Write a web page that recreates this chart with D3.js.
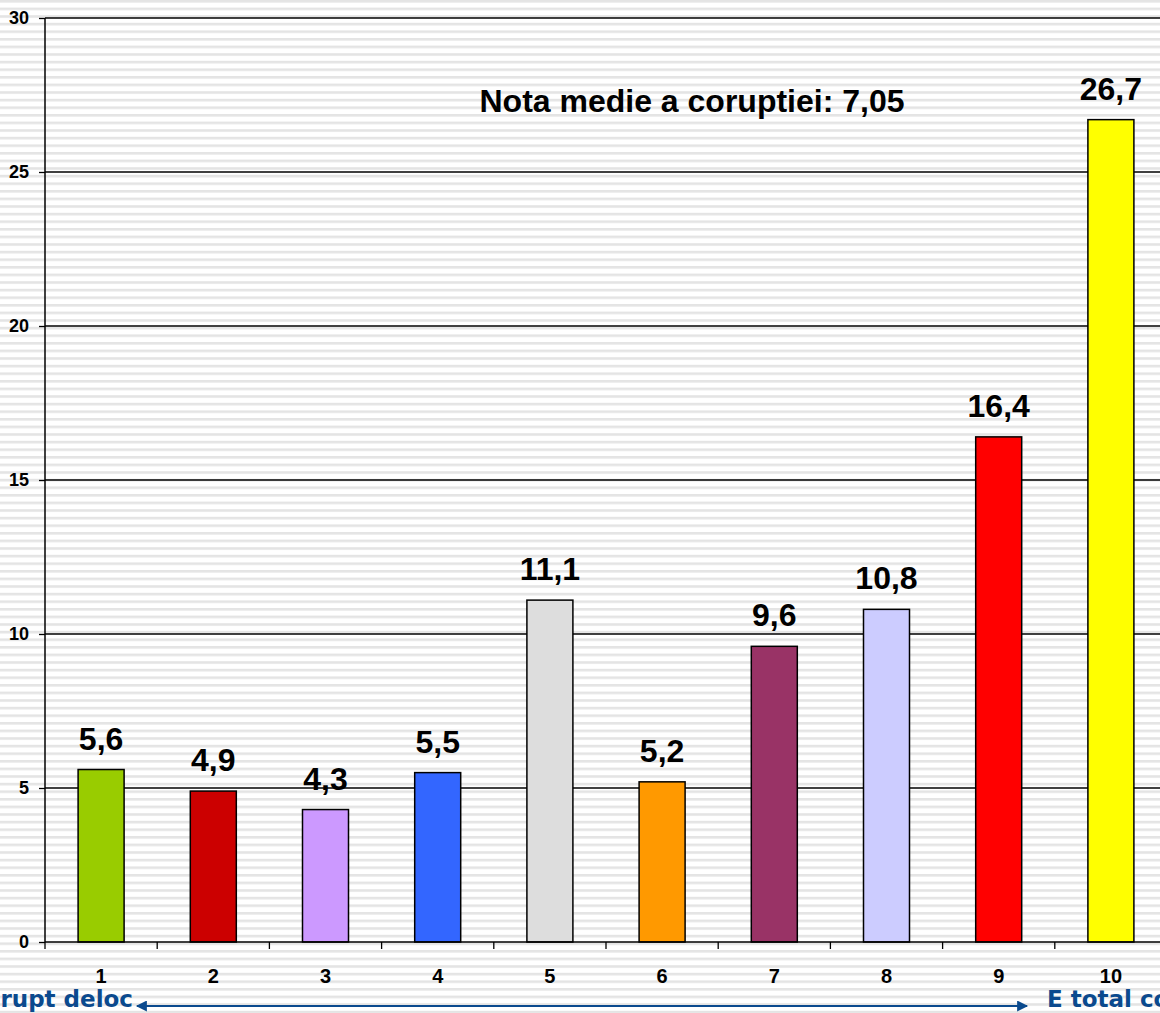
<!DOCTYPE html>
<html>
<head>
<meta charset="utf-8">
<script src="https://cdn.jsdelivr.net/npm/d3@7"></script>
<style>
  body { margin: 0; background: #fff; }
  svg { display: block; }
</style>
</head>
<body>
<div id="chart"></div>
<script>
var categories = ["1", "2", "3", "4", "5", "6", "7", "8", "9", "10"];
var values = [5.6, 4.9, 4.3, 5.5, 11.1, 5.2, 9.6, 10.8, 16.4, 26.7];
var labels = ["5,6", "4,9", "4,3", "5,5", "11,1", "5,2", "9,6", "10,8", "16,4", "26,7"];
var colors = ["#99cc00", "#cc0000", "#cc99ff", "#3366ff", "#dddddd",
              "#ff9900", "#993366", "#ccccff", "#ff0000", "#ffff00"];
var yTicks = [0, 5, 10, 15, 20, 25, 30];
var note = "Nota medie a coruptiei: 7,05";
var leftLabel = "Nu e corupt deloc";
var rightLabel = "E total corupt";

var W = 1160, H = 1013;
var margin = {top: 18, left: 45, bottom: 71};
var font = "Liberation Sans, Arial, sans-serif";

var svg = d3.select("#chart").append("svg")
    .attr("width", W)
    .attr("height", H);

// striped background
var defs = svg.append("defs");
var pat = defs.append("pattern")
    .attr("id", "stripes")
    .attr("patternUnits", "userSpaceOnUse")
    .attr("width", 8)
    .attr("height", 7.6);
pat.append("rect").attr("width", 8).attr("height", 7.6).attr("fill", "#ffffff");
pat.append("rect").attr("y", 0).attr("width", 8).attr("height", 2.6).attr("fill", "#e4e4e4");

var marker = defs.append("marker")
    .attr("id", "arrow")
    .attr("viewBox", "0 0 10 10")
    .attr("refX", 9).attr("refY", 5)
    .attr("markerWidth", 7).attr("markerHeight", 5.5)
    .attr("markerUnits", "strokeWidth")
    .attr("orient", "auto-start-reverse");
marker.append("path").attr("d", "M0,0 L10,5 L0,10 z").attr("fill", "#0b4a8e");

svg.append("rect").attr("width", W).attr("height", H).attr("fill", "url(#stripes)");

var x = d3.scaleBand()
    .domain(categories)
    .range([margin.left, margin.left + 1122])
    .paddingInner(0.59)
    .paddingOuter(0.295);

var y = d3.scaleLinear()
    .domain([0, 30])
    .range([H - margin.bottom, margin.top]);

// gridlines
svg.append("g")
    .selectAll("line")
    .data(yTicks.filter(function(d) { return d > 0; }))
  .enter().append("line")
    .attr("x1", margin.left).attr("x2", W)
    .attr("y1", function(d) { return y(d); })
    .attr("y2", function(d) { return y(d); })
    .attr("stroke", "#000")
    .attr("stroke-width", 1.3);

// bars
svg.append("g")
    .selectAll("rect")
    .data(values)
  .enter().append("rect")
    .attr("x", function(d, i) { return x(categories[i]); })
    .attr("width", x.bandwidth())
    .attr("y", function(d) { return y(d); })
    .attr("height", function(d) { return y(0) - y(d); })
    .attr("fill", function(d, i) { return colors[i]; })
    .attr("stroke", "#000")
    .attr("stroke-width", 1.5);

// value labels
svg.append("g")
    .selectAll("text")
    .data(values)
  .enter().append("text")
    .attr("x", function(d, i) { return x(categories[i]) + x.bandwidth() / 2; })
    .attr("y", function(d) { return y(d) - 20; })
    .attr("text-anchor", "middle")
    .style("font-family", font)
    .style("font-weight", "bold")
    .style("font-size", "32px")
    .text(function(d, i) { return labels[i]; });

// y axis
var yAxis = d3.axisLeft(y)
    .tickValues(yTicks)
    .tickSize(6)
    .tickPadding(10)
    .tickFormat(d3.format("d"));

var gy = svg.append("g")
    .attr("transform", "translate(" + margin.left + ",0)")
    .call(yAxis);
gy.select(".domain").attr("stroke-width", 1.5).attr("d", "M0," + y(30) + "V" + y(0));
gy.selectAll(".tick line").attr("stroke-width", 1.3);
gy.selectAll("text")
    .style("font-family", font)
    .style("font-weight", "bold")
    .style("font-size", "18px")
    .attr("fill", "#000");

// x axis
var xAxis = d3.axisBottom(x).tickSize(0).tickPadding(27);
var gx = svg.append("g")
    .attr("transform", "translate(0," + y(0) + ")")
    .call(xAxis);
gx.select(".domain").attr("stroke-width", 1.5).attr("d", "M" + margin.left + ",0H" + W);
gx.selectAll("text")
    .style("font-family", font)
    .style("font-weight", "bold")
    .style("font-size", "20px")
    .attr("fill", "#000");

// category boundary ticks
var step = x.step();
var bounds = d3.range(categories.length + 1).map(function(i) {
    return x(categories[0]) - x.paddingOuter() * step + i * step;
});
gx.append("g").selectAll("line")
    .data(bounds)
  .enter().append("line")
    .attr("x1", function(d) { return d; }).attr("x2", function(d) { return d; })
    .attr("y1", 0).attr("y2", 7)
    .attr("stroke", "#000")
    .attr("stroke-width", 1.3);

// note
svg.append("text")
    .attr("x", 692)
    .attr("y", 112)
    .attr("text-anchor", "middle")
    .style("font-family", font)
    .style("font-weight", "bold")
    .style("font-size", "32px")
    .text(note);

// bottom arrow and labels
svg.append("line")
    .attr("x1", 137).attr("x2", 1027)
    .attr("y1", 1006).attr("y2", 1006)
    .attr("stroke", "#0b4a8e")
    .attr("stroke-width", 2)
    .attr("marker-start", "url(#arrow)")
    .attr("marker-end", "url(#arrow)");

svg.append("text")
    .attr("x", 133).attr("y", 1007)
    .attr("text-anchor", "end")
    .attr("fill", "#0b4a8e")
    .style("font-family", "DejaVu Sans, Verdana, sans-serif")
    .style("font-weight", "bold")
    .style("font-size", "23px")
    .text(leftLabel);

svg.append("text")
    .attr("x", 1047).attr("y", 1007)
    .attr("fill", "#0b4a8e")
    .style("font-family", "DejaVu Sans, Verdana, sans-serif")
    .style("font-weight", "bold")
    .style("font-size", "23px")
    .text(rightLabel);
</script>
</body>
</html>
